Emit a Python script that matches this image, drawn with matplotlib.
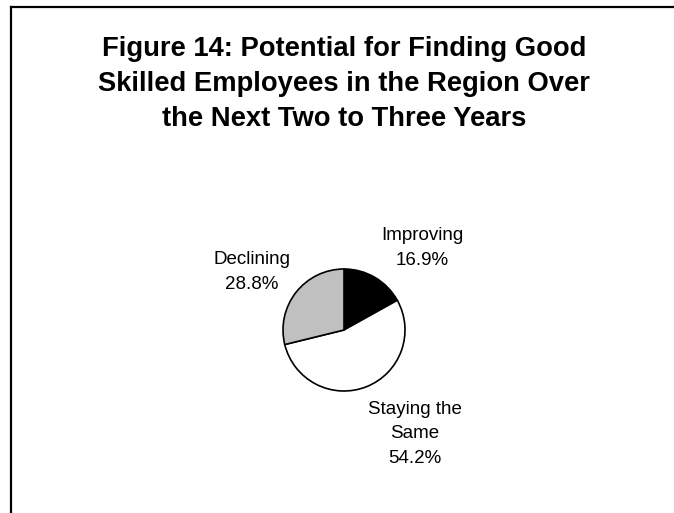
import matplotlib.pyplot as plt
from matplotlib.lines import Line2D

plt.rcParams['font.family'] = ['Liberation Sans', 'DejaVu Sans']

title = "Figure 14: Potential for Finding Good\nSkilled Employees in the Region Over\nthe Next Two to Three Years"
categories = ["Improving", "Staying the\nSame", "Declining"]
shares = [16.9, 54.2, 28.8]
colors = ["#000000", "#ffffff", "#c0c0c0"]

W, H = 674, 513
fig = plt.figure(figsize=(W / 100, H / 100), dpi=100)

# frame lines on the left and top
fig.add_artist(Line2D([11 / W, 11 / W], [0, 1 - 7 / H], color="black", lw=1.6,
                      transform=fig.transFigure, solid_capstyle="projecting"))
fig.add_artist(Line2D([11 / W, 1], [1 - 7 / H, 1 - 7 / H], color="black", lw=1.6,
                      transform=fig.transFigure, solid_capstyle="projecting"))

fig.text(344 / W, 1 - 84 / H, title, ha="center", va="center", fontsize=19.7,
         fontweight="bold", linespacing=1.46)

# pie centred at (344, 330) px, radius 61 px
cx, cy, r = 344, 330, 61
ax = fig.add_axes([(cx - r) / W, (H - cy - r) / H, 2 * r / W, 2 * r / H])
ax.pie(shares, colors=colors, startangle=90, counterclock=False,
       wedgeprops=dict(edgecolor="black", linewidth=1.2))
ax.set_xlim(-1, 1)
ax.set_ylim(-1, 1)
ax.set_aspect("equal")
ax.axis("off")

label_pos = [(1.28, 1.34), (1.16, -1.7), (-1.51, 0.95)]
for name, val, (lx, ly) in zip(categories, shares, label_pos):
    ax.text(lx, ly, f"{name}\n{val}%", ha="center", va="center", fontsize=13.5,
            linespacing=1.59, clip_on=False)

fig.savefig("out.png", dpi=100)
